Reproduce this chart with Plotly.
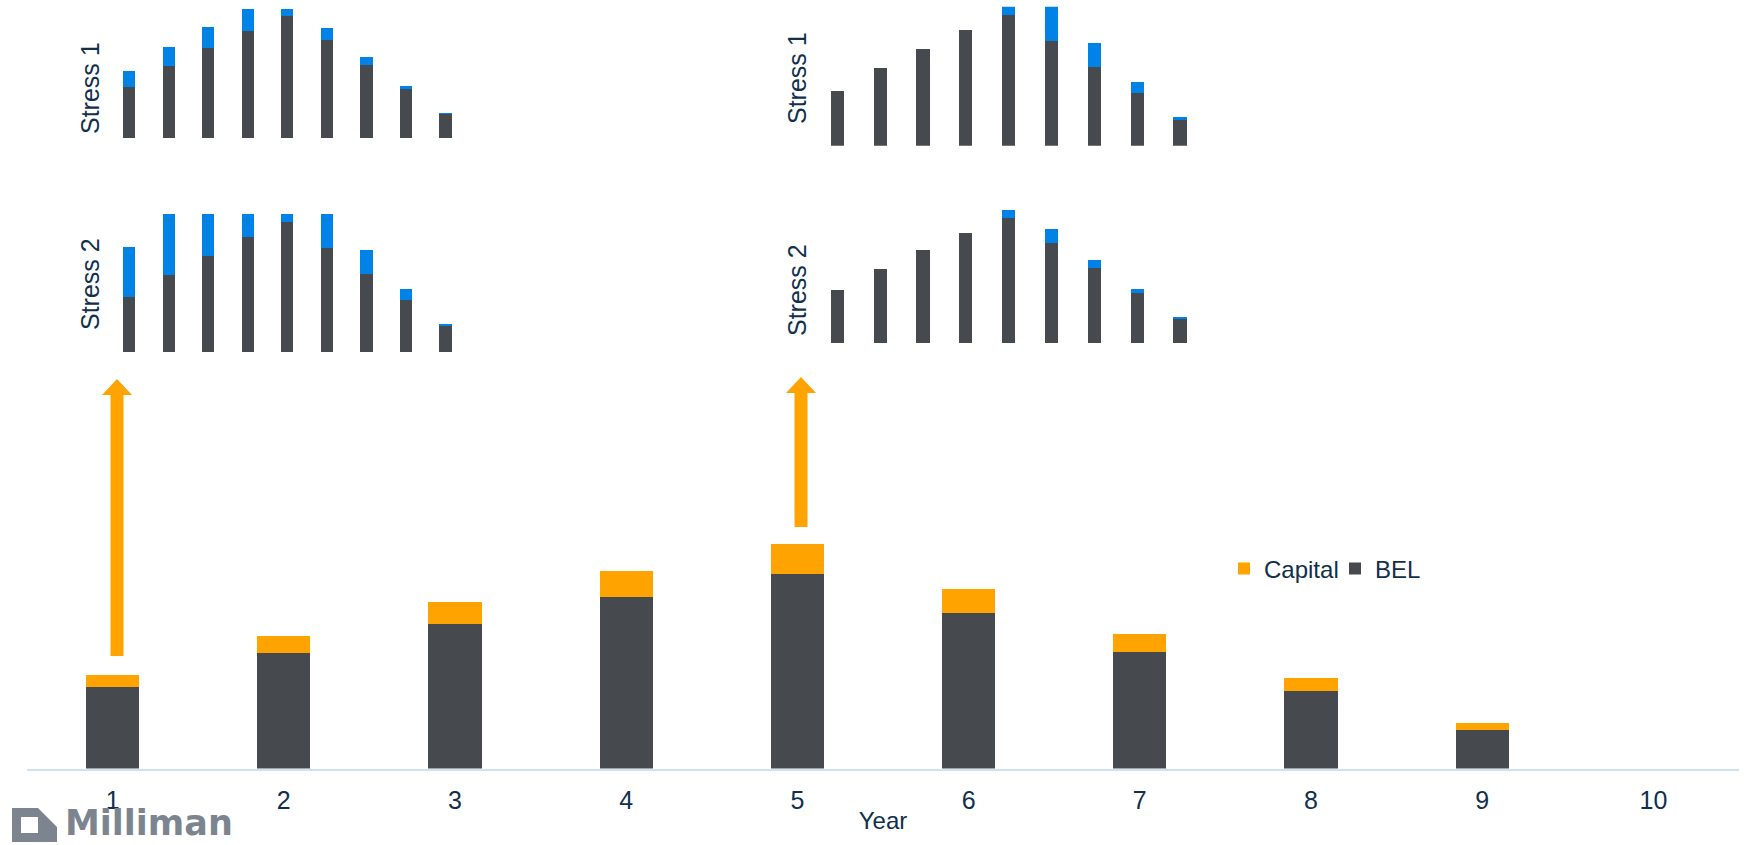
import plotly.graph_objects as go

# ---------------- data ----------------
years = [1, 2, 3, 4, 5, 6, 7, 8, 9, 10]
year_labels = ["1", "2", "3", "4", "5", "6", "7", "8", "9", "10"]
bel = [42, 59, 74, 88, 100, 80, 60, 40, 20, 0]
capital = [6.0, 8.9, 11.3, 13.2, 15.2, 12.1, 9.1, 6.2, 3.4, 0]

inset_years = [1, 2, 3, 4, 5, 6, 7, 8, 9]
inset_bel = [42, 59, 74, 88, 100, 80, 60, 40, 20]
stress1_from_y1 = [13.4, 15.8, 17.2, 17.7, 12.0, 10.4, 6.3, 2.7, 0.5]
stress2_from_y1 = [38.5, 50.0, 40.0, 28.0, 15.0, 35.0, 17.9, 8.2, 2.0]
stress1_from_y5 = [0, 0, 0, 0, 10.0, 30.0, 18.3, 8.7, 1.8]
stress2_from_y5 = [0, 0, 0, 0, 6.4, 10.9, 6.4, 3.4, 1.3]

# ---------------- style ----------------
W, H = 1750, 845
C_BEL = "#46494e"
C_CAP = "#ffa300"
C_STRESS = "#0082e6"
C_TEXT = "#10304d"
C_AXIS = "#cfe2f3"
C_LOGO = "#7c8490"
FONT = "Liberation Sans, Arial, sans-serif"


def px_x(x):
    return x / W


def px_y(y):
    return 1 - y / H


fig = go.Figure()

# main chart
fig.add_trace(go.Bar(x=years, y=bel, name="BEL", marker=dict(color=C_BEL, line=dict(width=0)),
                     legendrank=2, xaxis="x", yaxis="y"))
fig.add_trace(go.Bar(x=years, y=capital, name="Capital", marker=dict(color=C_CAP, line=dict(width=0)),
                     legendrank=1, xaxis="x", yaxis="y"))

# insets
insets = [
    ("x2", "y2", stress1_from_y1),
    ("x3", "y3", stress2_from_y1),
    ("x4", "y4", stress1_from_y5),
    ("x5", "y5", stress2_from_y5),
]
for xa, ya, stress in insets:
    fig.add_trace(go.Bar(x=inset_years, y=inset_bel, marker=dict(color=C_BEL, line=dict(width=0)),
                         showlegend=False, xaxis=xa, yaxis=ya, hoverinfo="skip"))
    fig.add_trace(go.Bar(x=inset_years, y=stress, marker=dict(color=C_STRESS, line=dict(width=0)),
                         showlegend=False, xaxis=xa, yaxis=ya, hoverinfo="skip"))

hidden = dict(visible=False, showgrid=False, zeroline=False, fixedrange=True)

left_dom = [px_x(109.3), px_x(465.3)]
right_dom = [px_x(815.9), px_x(1201.4)]

fig.update_layout(
    width=W, height=H,
    margin=dict(l=0, r=0, t=0, b=0),
    paper_bgcolor="white", plot_bgcolor="white",
    barmode="stack", bargap=0.69,
    font=dict(family=FONT, color=C_TEXT, size=24),
    showlegend=True,
    legend=dict(orientation="h", x=px_x(1224), xanchor="left", y=px_y(569), yanchor="middle",
                font=dict(size=24, color=C_TEXT), bgcolor="rgba(0,0,0,0)", traceorder="normal",
                entrywidth=66),
    xaxis=dict(domain=[px_x(27), px_x(1739)], range=[0.5, 10.5], tickmode="array",
               tickvals=years, ticktext=year_labels, showgrid=False, zeroline=False,
               showline=True, linecolor=C_AXIS, linewidth=2,
               ticks="outside", ticklen=8, tickcolor="rgba(0,0,0,0)",
               tickfont=dict(size=25, color=C_TEXT),
               title=dict(text="Year", font=dict(size=24, color=C_TEXT), standoff=0),
               anchor="y", fixedrange=True),
    yaxis=dict(domain=[px_y(768.5), 0.6], range=[0, (768.5 - 338) / 1.95], **hidden),
    xaxis2=dict(domain=left_dom, range=[0.5, 9.5], anchor="y2", **hidden),
    yaxis2=dict(domain=[px_y(138.3), px_y(9.0)], range=[0, 105.7], anchor="x2", **hidden),
    xaxis3=dict(domain=left_dom, range=[0.5, 9.5], anchor="y3", **hidden),
    yaxis3=dict(domain=[px_y(352.3), px_y(214.0)], range=[0, 105.8], anchor="x3", **hidden),
    xaxis4=dict(domain=right_dom, range=[0.5, 9.5], anchor="y4", **hidden),
    yaxis4=dict(domain=[px_y(145.7), px_y(6.7)], range=[0, 106.1], anchor="x4", **hidden),
    xaxis5=dict(domain=right_dom, range=[0.5, 9.5], anchor="y5", **hidden),
    yaxis5=dict(domain=[px_y(343.3), px_y(207.5)], range=[0, 108], anchor="x5", **hidden),
)

# stress labels
for text, x, y in [("Stress 1", 90, 88), ("Stress 2", 90, 284),
                   ("Stress 1", 797, 78), ("Stress 2", 797, 290)]:
    fig.add_annotation(text=text, x=px_x(x), y=px_y(y), xref="paper", yref="paper",
                       showarrow=False, textangle=-90, xanchor="center", yanchor="middle",
                       font=dict(size=25, color=C_TEXT, family=FONT))


def poly(points):
    return "M " + " L ".join(f"{px_x(x):.5f},{px_y(y):.5f}" for x, y in points) + " Z"


# arrows (decorative)
def arrow(cx, bottom, base, tip, shaft=13, head=30):
    s, h = shaft / 2, head / 2
    return poly([(cx - s, bottom), (cx - s, base), (cx - h, base), (cx, tip),
                 (cx + h, base), (cx + s, base), (cx + s, bottom)])


for cx, bottom, base, tip in [(117, 656, 395, 379), (801, 527, 393, 377)]:
    fig.add_shape(type="path", path=arrow(cx, bottom, base, tip), xref="paper", yref="paper",
                  fillcolor=C_CAP, line=dict(width=0), layer="above")

# Milliman logo
fig.add_shape(type="path", path=poly([(12, 808), (38, 808), (57, 827), (57, 842), (12, 842)]),
              xref="paper", yref="paper", fillcolor=C_LOGO, line=dict(width=0), layer="above")
fig.add_shape(type="rect", x0=px_x(21), x1=px_x(38), y0=px_y(833), y1=px_y(817),
              xref="paper", yref="paper", fillcolor="white", line=dict(width=0), layer="above")
fig.add_annotation(text="<b>Milliman</b>", x=px_x(64), y=0.0015, xref="paper", yref="paper",
                   showarrow=False, xanchor="left", yanchor="bottom", borderpad=0,
                   font=dict(size=35, color=C_LOGO, family="DejaVu Sans, Liberation Sans, sans-serif"))

fig.write_html("out.html")
